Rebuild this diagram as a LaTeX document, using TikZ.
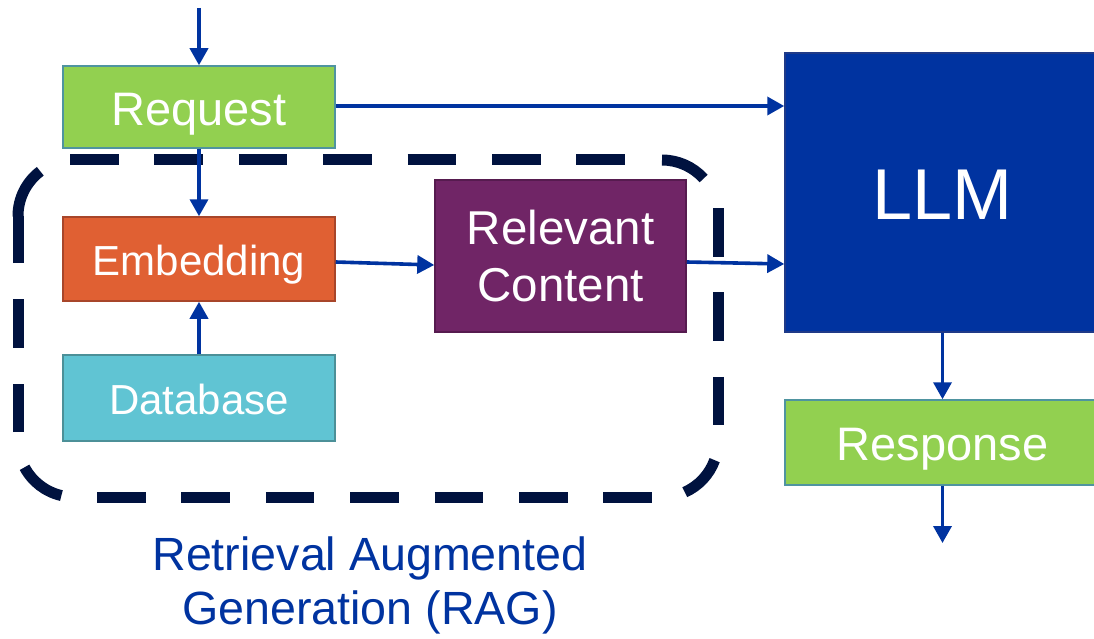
\documentclass[tikz,border=0pt]{standalone}
\usepackage{fontspec}
\setmainfont{Liberation Sans}
\usetikzlibrary{arrows.meta,calc}
\definecolor{reqgreen}{HTML}{92D050}
\definecolor{reqborder}{HTML}{4F94A0}
\definecolor{embfill}{HTML}{E06033}
\definecolor{embborder}{HTML}{A8462A}
\definecolor{dbfill}{HTML}{60C4D3}
\definecolor{dbborder}{HTML}{4C9098}
\definecolor{relfill}{HTML}{702566}
\definecolor{relborder}{HTML}{561B4F}
\definecolor{llmfill}{HTML}{0033A0}
\definecolor{llmborder}{HTML}{1F3A88}
\definecolor{arrowblue}{HTML}{0033A0}
\definecolor{dashnavy}{HTML}{00123F}
\tikzset{
  box/.style={draw, line width=1.5pt, text=white, inner sep=0pt, align=center},
  bigtext/.style={font=\fontsize{47}{52}\selectfont, text height=36.6pt, text depth=0pt},
  midtext/.style={font=\fontsize{42}{48}\selectfont, text height=33pt, text depth=0pt},
  flow/.style={draw=arrowblue, line width=3.6pt, -{Triangle[length=17pt,width=18pt]}},
  ragline/.style={draw=dashnavy, line width=11pt},
  ragdash/.style={ragline, dash pattern=on 48.5pt off 35.9pt},
}
\begin{document}
\begin{tikzpicture}[x=1pt,y=-1pt]
\useasboundingbox (0,0) rectangle (1094,639);
\clip (0,0) rectangle (1094,639);
% RAG dashed boundary (corners of radius 56)
\draw[ragdash] (70,160) -- (626,160);
\draw[ragline] ($(662,216)+(-90:56)$) arc[start angle=-90, end angle=-42, radius=56];
\draw[ragdash] (718,208) -- (718,425);
\draw[ragline] ($(662,441)+(20:56)$) arc[start angle=20, end angle=66, radius=56];
\draw[ragdash] (97,497) -- (653,497);
\draw[ragline] ($(74,441)+(103:56)$) arc[start angle=103, end angle=152, radius=56];
\draw[ragdash] (18,432) -- (18,216);
\draw[ragline] (18,216.5) -- ($(74,216)+(180:56)$) arc[start angle=180, end angle=233, radius=56];
% nodes
\node[box, bigtext, fill=reqgreen, draw=reqborder, minimum width=272pt, minimum height=82pt]
  (req) at (199,107) {Request};
\node[box, midtext, fill=embfill, draw=embborder, minimum width=272pt, minimum height=84pt]
  (emb) at (199,259) {Embedding};
\node[box, midtext, fill=dbfill, draw=dbborder, minimum width=272pt, minimum height=86pt]
  (db) at (199,398) {Database};
\node[box, fill=relfill, draw=relborder, minimum width=251pt, minimum height=152pt,
      font=\fontsize{47.5}{57.5}\selectfont] (rel) at (560.5,256) {Relevant\\Content};
\node[box, fill=llmfill, draw=llmborder, minimum width=315pt, minimum height=279pt,
      font=\fontsize{72}{80}\selectfont, text height=54.5pt, text depth=0pt]
  (llm) at (942.5,192.5) {LLM};
\node[box, bigtext, fill=reqgreen, draw=reqborder, minimum width=315pt, minimum height=85pt]
  (resp) at (942.5,442.5) {Response};
\node[text=arrowblue, align=center, font=\fontsize{46.6}{54}\selectfont] (cap) at (370,585)
  {Retrieval Augmented\\Generation (RAG)};
% free ends
\coordinate (in) at (199,8);
\coordinate (out) at (942.5,543);
% connectors
\draw[flow] (in) -- (req.north);
\draw[flow] (req.south) -- (emb.north);
\draw[flow] (db.north) -- (emb.south);
\draw[flow] ([yshift=1pt]req.east) -- ([yshift=1pt]req.east -| llm.west);
\draw[flow] ([yshift=-3pt]emb.east) -- ([yshift=-9pt]rel.west);
\draw[flow] ([yshift=-6pt]rel.east) -- ([yshift=-8pt]rel.east -| llm.west);
\draw[flow] (llm.south) -- (resp.north);
\draw[flow] (resp.south) -- (out);
\end{tikzpicture}
\end{document}
